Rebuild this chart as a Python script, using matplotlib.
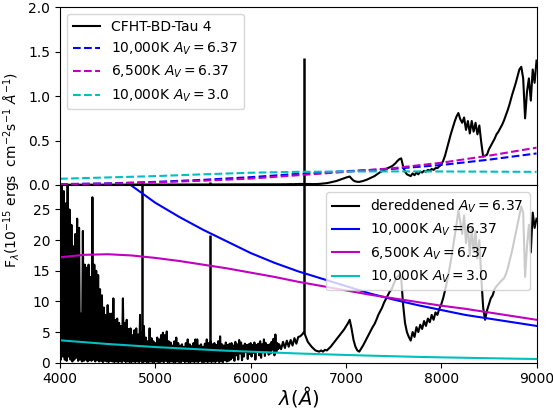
import numpy as np
import matplotlib
matplotlib.use('Agg')
import matplotlib.pyplot as plt

# ---------------- data ----------------
# dereddened spectrum, blue noisy part: peaks at 4000..6280 (20 A), troughs at 4010..6290
blue_peak_wl_start, blue_step = 4000, 20
blue_peaks = [
    27, 31, 28, 26, 31, 25, 22.5, 19, 21, 23.5,
    22, 8, 21.5, 16, 15.5, 16, 14, 27, 16, 15,
    14.3, 12, 11, 9, 7.8, 9.4, 8, 8, 10.5, 7,
    7.2, 6.5, 6, 10.5, 6.5, 7, 5.5, 5.6, 4.5, 5.3,
    5.6, 4.6, 7.8, 5.0, 6, 4.1, 3.5, 5.6, 4, 3.5,
    3.2, 4.1, 3.8, 4.5, 4.9, 4.5, 5.1, 3.5, 3.3, 2.8,
    3.5, 4.1, 3.2, 2.8, 3, 2.6, 3.2, 3.8, 3, 2.7,
    3.2, 3.8, 3.8, 2.8, 3, 2.6, 3.1, 3.8, 3.2, 3.5,
    3, 3.2, 2.9, 3.5, 4.3, 3.0, 2.8, 3.3, 2.9, 3.1,
    3.2, 2.8, 3.4, 3.0, 3.7, 3.3, 2.8, 3.1, 2.9, 3.0,
    3.2, 2.9, 3.3, 2.9, 3.1, 3.5, 3.0, 3.8, 3.2, 2.9,
    3.0, 3.4, 3.9, 4.6, 3.2]
blue_troughs = [
    0.5, 1, 0.5, 0.3, 1, 0.5, 0.2, 0.5, 0.8, 0.3,
    0.5, 0.2, 0.3, 0.5, 0.2, 0.4, 0.3, 0.5, 0.2, 0.4,
    0.2, 0.3, 0.1, 0.3, 0.2, 0.1, 0.3, 0.2, 0.1, 0.2,
    0.1, 0.2, 0.1, 0.3, 0.1, 0.2, 0.1, 0.1, 0.2, 0.1,
    0.2, 0.1, 0.3, 0.1, 0.2, 0.1, 0.1, 0.2, 0.1, 0.1,
    0.2, 0.1, 0.1, 0.2, 0.1, 0.3, 0.1, 0.1, 0.2, 0.1,
    0.1, 0.2, 0.1, 0.1, 0.3, 0.1, 0.2, 0.1, 0.1, 0.2,
    0.1, 0.2, 0.1, 0.3, 0.1, 0.1, 0.2, 0.1, 0.2, 0.1,
    0.2, 0.1, 0.3, 0.1, 0.2, 0.1, 0.4, 0.2, 0.3, 0.5,
    0.8, 0.3, 1.2, 0.5, 1.5, 0.4, 1.0, 1.8, 0.6, 1.4,
    1.0, 1.6, 0.5, 1.9, 1.2, 0.8, 1.7, 1.1, 2.0, 1.3,
    1.5, 2.1, 1.2, 1.8, 2.2]

# dereddened spectrum, red part 6300..9000 (20 A)
red_wl_start, red_step = 6300, 20
dered_red = [
    3.0, 2.2, 3.4, 2.4, 3.6, 2.6, 3.7, 2.8, 4.0, 3.1,
    4.2, 4.3, 4.6, 5.0, 4.2, 3.4, 3.0, 2.6, 2.3, 2.0,
    1.9, 1.8, 2.0, 1.8, 2.1, 2.0, 2.3, 2.6, 3.0, 3.4,
    3.8, 4.2, 4.6, 5.0, 5.4, 5.9, 6.4, 7.0, 5.5, 3.7,
    2.6, 2.0, 1.8, 2.3, 2.8, 3.4, 4.0, 4.6, 5.2, 5.8,
    6.3, 7.0, 7.8, 8.4, 9.0, 9.8, 10.4, 11.0, 11.6, 12.0,
    12.8, 13.5, 14.0, 14.3, 13.8, 9.5, 6.5, 5.0, 4.2, 3.6,
    5.0, 4.2, 5.8, 5.0, 6.2, 5.5, 6.8, 6.0, 7.2, 6.6,
    7.8, 7.0, 8.2, 7.8, 8.8, 9.5, 10.5, 11.8, 13.2, 14.8,
    16.5, 18.5, 20.5, 22.5, 24.8, 23.0, 21.0, 24.0, 19.5, 22.5,
    17.5, 22.0, 18.0, 21.5, 17.0, 20.0, 14.0, 9.0, 7.0, 8.5,
    9.5, 10.5, 11.0, 12.0, 12.5, 12.8, 13.2, 13.5, 13.8, 14.5,
    15.5, 16.8, 18.0, 19.5, 21.0, 22.5, 24.0, 25.5, 24.5, 14.0,
    19.0, 22.5, 18.0, 24.5, 22.0, 23.5]

# observed spectrum (top panel)
obs_blue_start, obs_blue_step = 4000, 100
obs_blue = [0.003, 0.003, 0.003, 0.004, 0.004, 0.004, 0.004, 0.005, 0.005, 0.005,
            0.005, 0.005, 0.006, 0.006, 0.006, 0.006, 0.006, 0.007, 0.007, 0.007,
            0.007, 0.008, 0.008]
obs_red = [
    0.008, 0.008, 0.009, 0.008, 0.009, 0.009, 0.01, 0.009, 0.01, 0.01,
    0.011, 0.012, 0.012, 0.013, 0.012, 0.011, 0.011, 0.01, 0.01, 0.01,
    0.011, 0.012, 0.014, 0.016, 0.018, 0.021, 0.025, 0.03, 0.035, 0.04,
    0.045, 0.052, 0.06, 0.068, 0.076, 0.083, 0.09, 0.095, 0.07, 0.05,
    0.04, 0.036, 0.035, 0.04, 0.045, 0.052, 0.06, 0.07, 0.08, 0.09,
    0.10, 0.115, 0.13, 0.145, 0.155, 0.165, 0.18, 0.19, 0.2, 0.21,
    0.225, 0.245, 0.27, 0.29, 0.30, 0.21, 0.15, 0.12, 0.11, 0.10,
    0.13, 0.11, 0.14, 0.12, 0.15, 0.14, 0.16, 0.15, 0.17, 0.16,
    0.18, 0.17, 0.19, 0.19, 0.21, 0.23, 0.27, 0.33, 0.41, 0.49,
    0.57, 0.64, 0.71, 0.77, 0.81, 0.74, 0.70, 0.76, 0.62, 0.72,
    0.58, 0.72, 0.60, 0.70, 0.57, 0.67, 0.48, 0.32, 0.33, 0.34,
    0.40, 0.44, 0.48, 0.52, 0.57, 0.60, 0.64, 0.68, 0.73, 0.79,
    0.85, 0.92, 1.00, 1.07, 1.14, 1.22, 1.30, 1.33, 1.20, 0.75,
    1.05, 1.20, 0.95, 1.30, 1.15, 1.40]

# emission lines
line_wl = [4861, 5577, 6563]
dered_line_base = [0.0, 3.0, 4.8]
dered_line_peak = [60.0, 20.8, 80.0]
obs_line_base = [0.004, 0.005, 0.01]
obs_line_peak = [0.037, 0.03, 1.43]

# model curves, bottom panel (250 A grid)
model_wl = [4000, 4250, 4500, 4750, 5000, 5250, 5500, 5750, 6000, 6250, 6500,
            6750, 7000, 7250, 7500, 7750, 8000, 8250, 8500, 8750, 9000]
bb10k_dered = [42, 37, 33, 28.9, 26.1, 23.8, 21.7, 19.8, 17.9, 16.3, 14.9,
               13.7, 12.5, 11.3, 10.3, 9.4, 8.6, 7.8, 7.2, 6.6, 6.0]
bb65k_dered = [17.2, 17.6, 17.7, 17.5, 17.1, 16.6, 16.0, 15.4, 14.7, 14.0, 13.2,
               12.5, 11.8, 11.1, 10.5, 9.9, 9.3, 8.8, 8.2, 7.6, 7.0]
bb10k_av3 = [3.65, 3.35, 3.05, 2.8, 2.55, 2.35, 2.15, 1.95, 1.8, 1.65, 1.5,
             1.38, 1.26, 1.15, 1.05, 0.95, 0.87, 0.8, 0.73, 0.66, 0.6]

# model curves, top panel (500 A grid)
model_wl_top = [4000, 4500, 5000, 5500, 6000, 6500, 7000, 7500, 8000, 8500, 9000]
bb10k_red = [0.010, 0.018, 0.035, 0.058, 0.088, 0.125, 0.155, 0.182, 0.225, 0.285, 0.355]
bb65k_red = [0.008, 0.015, 0.030, 0.048, 0.072, 0.110, 0.148, 0.190, 0.250, 0.330, 0.420]
bb10k_av3_red = [0.070, 0.085, 0.100, 0.120, 0.138, 0.148, 0.152, 0.153, 0.152, 0.150, 0.148]

# ---------------- assemble ----------------
n_blue = len(blue_peaks)
bp_wl = blue_peak_wl_start + blue_step * np.arange(n_blue)
blue_wl = np.empty(2 * n_blue)
blue_fl = np.empty(2 * n_blue)
blue_wl[0::2] = bp_wl
blue_wl[1::2] = bp_wl + blue_step / 2
blue_fl[0::2] = blue_peaks
blue_fl[1::2] = blue_troughs
red_wl = red_wl_start + red_step * np.arange(len(dered_red))
dered_wl = np.concatenate([blue_wl, red_wl])
dered_fl = np.concatenate([blue_fl, dered_red])

obs_wl = np.concatenate([obs_blue_start + obs_blue_step * np.arange(len(obs_blue)),
                         red_wl_start + red_step * np.arange(len(obs_red))])
obs_fl = np.concatenate([obs_blue, obs_red])

# ---------------- plot ----------------
fig = plt.figure(figsize=(5.53, 4.12), dpi=100)
ax_top = fig.add_axes([0.1085, 0.5510, 0.8617, 0.4313])
ax_bot = fig.add_axes([0.1085, 0.1197, 0.8617, 0.4313])

ax_top.plot(obs_wl, obs_fl, color='k', lw=1.5, label='CFHT-BD-Tau 4')
ax_top.vlines(line_wl, obs_line_base, obs_line_peak, color='k', lw=1.8)
ax_top.plot(model_wl_top, bb10k_red, 'b--', lw=1.5, label=r'10,000K $A_V = 6.37$')
ax_top.plot(model_wl_top, bb65k_red, 'm--', lw=1.5, label=r'6,500K $A_V = 6.37$')
ax_top.plot(model_wl_top, bb10k_av3_red, 'c--', lw=1.5, label=r'10,000K $A_V = 3.0$')
ax_top.set_xlim(4000, 9000)
ax_top.set_ylim(0, 2.0)
ax_top.set_yticks([0.0, 0.5, 1.0, 1.5, 2.0])
ax_top.tick_params(axis='x', which='both', bottom=False, labelbottom=False)
ax_top.legend(loc='upper left')

ax_bot.plot(dered_wl, dered_fl, color='k', lw=1.5, label=r'dereddened $A_V = 6.37$')
ax_bot.vlines(line_wl, dered_line_base, dered_line_peak, color='k', lw=1.8)
ax_bot.plot(model_wl, bb10k_dered, 'b-', lw=1.5, label=r'10,000K $A_V = 6.37$')
ax_bot.plot(model_wl, bb65k_dered, 'm-', lw=1.5, label=r'6,500K $A_V = 6.37$')
ax_bot.plot(model_wl, bb10k_av3, 'c-', lw=1.5, label=r'10,000K $A_V = 3.0$')
ax_bot.set_xlim(4000, 9000)
ax_bot.set_ylim(0, 29)
ax_bot.set_yticks([0, 5, 10, 15, 20, 25])
ax_bot.set_xticks([4000, 5000, 6000, 7000, 8000, 9000])
ax_bot.set_xlabel(r'$\lambda(\AA)$', fontsize=14, labelpad=-2)
ax_bot.legend(loc='upper right')

fig.text(0.022, 0.587, r'F$_\lambda$(10$^{-15}$ ergs  cm$^{-2}$s$^{-1}$ $\AA^{-1}$)',
         rotation=90, ha='center', va='center', fontsize=10)

fig.savefig('out.png', dpi=100)
